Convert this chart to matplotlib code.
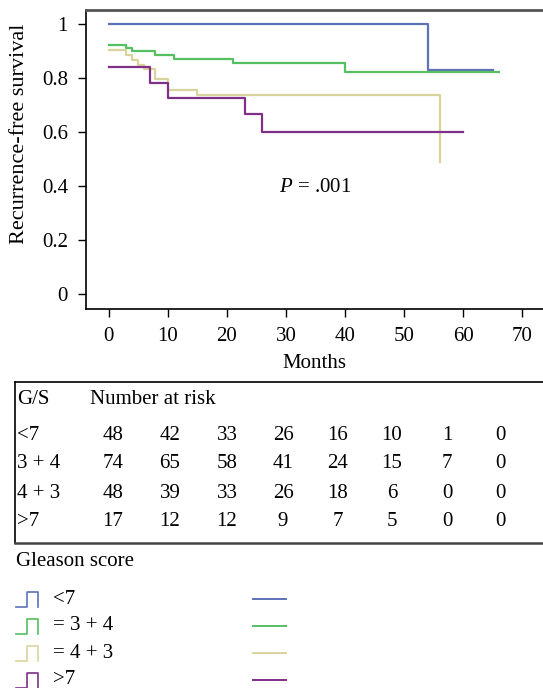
import numpy as np
import matplotlib
matplotlib.use('Agg')
import matplotlib.pyplot as plt

plt.rcParams['font.family'] = ['Liberation Serif', 'DejaVu Serif']
plt.rcParams['mathtext.fontset'] = 'custom'
plt.rcParams['mathtext.rm'] = 'Liberation Serif'
plt.rcParams['mathtext.it'] = 'Liberation Serif:italic'

# survival curves (step, post)
groups = ['<7', '3 + 4', '4 + 3', '>7']
legend_labels = ['<7', '= 3 + 4', '= 4 + 3', '>7']
colors = ['#5e72b8', '#55c060', '#d9d49c', '#7f2f88']

t_lt7 = [0, 54, 65]
s_lt7 = [1.0, 0.83, 0.83]
t_34 = [0, 2.9, 4, 7.9, 11, 21, 40, 66]
s_34 = [0.923, 0.91, 0.899, 0.885, 0.871, 0.857, 0.823, 0.823]
t_43 = [0, 2.9, 4, 5, 6, 7.9, 10.1, 15, 56]
s_43 = [0.905, 0.885, 0.868, 0.849, 0.832, 0.795, 0.756, 0.736, 0.49]
t_gt7 = [0, 7, 10.1, 23, 26, 60]
s_gt7 = [0.84, 0.783, 0.725, 0.665, 0.599, 0.599]

times = [t_lt7, t_34, t_43, t_gt7]
surv = [s_lt7, s_34, s_43, s_gt7]

# number at risk table
risk_lt7 = [48, 42, 33, 26, 16, 10, 1, 0]
risk_34 = [74, 65, 58, 41, 24, 15, 7, 0]
risk_43 = [48, 39, 33, 26, 18, 6, 0, 0]
risk_gt7 = [17, 12, 12, 9, 7, 5, 0, 0]
risk = [risk_lt7, risk_34, risk_43, risk_gt7]

FS = 15
W, H = 543, 688
fig = plt.figure(figsize=(W / 100, H / 100), dpi=100)

ax = fig.add_axes([86 / W, 1 - 309 / H, 1 - 86 / W, 299 / H])
for t, s, c in zip(times, surv, colors):
    ax.step(t, s, where='post', color=c, lw=1.6)

ax.set_xlim(-3.85, 73.5)
ax.set_ylim(-0.056, 1.052)
ax.set_xticks(range(0, 80, 10))
ax.set_yticks([0, 0.2, 0.4, 0.6, 0.8, 1])
ax.set_yticklabels(['0', '0.2', '0.4', '0.6', '0.8', '1'])
ax.tick_params(labelsize=FS, length=6, width=1, pad=7)
ax.spines['right'].set_visible(False)
ax.spines['top'].set_color('#555555')
ax.spines['top'].set_linewidth(2)
ax.spines['left'].set_linewidth(1.2)
ax.spines['bottom'].set_linewidth(1.2)
ax.set_xlabel('Months', fontsize=FS)
ax.xaxis.label.set_va('center')
ax.xaxis.set_label_coords(0.5, (309 - 363) / 299)
ax.set_ylabel('Recurrence-free survival', fontsize=16)
ax.yaxis.label.set_va('center')
ax.yaxis.set_label_coords((20 - 86) / 457, (309 - 134) / 299)
ax.text(34.9, 0.393, r'$P$ = .001', fontsize=FS, ha='center', va='center')

# overlay in pixel coordinates for the table and legend
ov = fig.add_axes([0, 0, 1, 1], facecolor='none')
ov.set_xlim(0, W)
ov.set_ylim(H, 0)
ov.axis('off')

ov.plot([15, W], [382, 382], color='black', lw=1.2)
ov.plot([15, 15], [382, 543], color='black', lw=1.2)
ov.plot([15, W], [543, 543], color='#444444', lw=1.8)

ov.text(17, 400, 'G/S', fontsize=FS, va='center')
ov.text(90, 400, 'Number at risk', fontsize=FS, va='center')
col_x = [113, 170, 227, 283, 338, 392, 447, 500]
row_y = [436, 464, 493, 521]
for g, r, y in zip(groups, risk, row_y):
    ov.text(17, y, g, fontsize=FS, va='center')
    for x, v in zip(col_x, r):
        ov.text(x, y, str(v), fontsize=FS, ha='center', va='center')

ov.text(16, 561, 'Gleason score', fontsize=FS, va='center')
leg_y = [599, 626, 653, 680]
for lab, c, y in zip(legend_labels, colors, leg_y):
    ov.plot([16, 27, 27, 38, 38], [y + 8, y + 8, y - 7, y - 7, y + 8], color=c, lw=1.2)
    ov.text(53, y, lab, fontsize=FS, va='center')
    ov.plot([253, 286], [y, y], color=c, lw=1.4)

fig.savefig('out.png', dpi=100)
